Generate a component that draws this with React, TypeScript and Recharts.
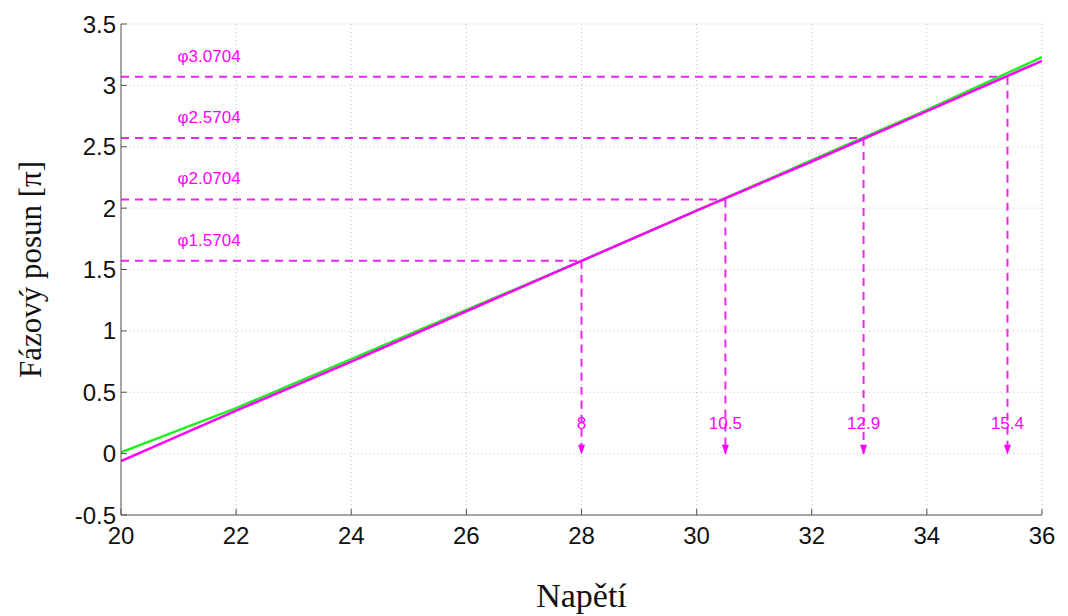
import {
  CartesianGrid,
  ComposedChart,
  Label,
  Line,
  ReferenceLine,
  Scatter,
  XAxis,
  YAxis,
} from 'recharts'

const voltage = [20, 22, 24, 26, 28, 30, 32, 34, 36]
const measured = [0.01, 0.37, 0.77, 1.17, 1.57, 1.98, 2.39, 2.8, 3.23]
const fitted = [-0.06, 0.35, 0.75, 1.16, 1.57, 1.98, 2.38, 2.79, 3.2]

const phaseLevels = [1.5704, 2.0704, 2.5704, 3.0704]
const crossings = [28, 30.5, 32.9, 35.4]
const crossingLabels = ['8', '10.5', '12.9', '15.4']

const xTicks = [20, 22, 24, 26, 28, 30, 32, 34, 36]
const yTicks = [-0.5, 0, 0.5, 1, 1.5, 2, 2.5, 3, 3.5]

const magenta = '#ff00ff'
const dashColor = '#e829e8'
const axisColor = '#555'
const sans = '"Liberation Sans", Arial, sans-serif'
const serif = '"Liberation Serif", "Times New Roman", serif'

const data = voltage.map((x, i) => ({x, measured: measured[i], fitted: fitted[i]}))
const arrows = crossings.map((x) => ({x, y: 0}))
const phaseNotes = phaseLevels.map((y) => ({x: 21, y, text: `φ${y}`}))
const crossingNotes = crossings.map((x, i) => ({x, y: 0.25, text: crossingLabels[i]}))

const X_GAP = 12
const Y_GAP = 5

// matlab style ticks point into the plot, so draw them with the label
function XTick(props: any) {
  const {x, y, payload} = props
  const axisY = y - X_GAP
  return (
    <g>
      <line x1={x} x2={x} y1={axisY} y2={axisY - 6} stroke={axisColor} />
      <text x={x} y={y} dy="0.71em" textAnchor="middle" fontSize={24} fontFamily={sans} fill="#111">
        {payload.value}
      </text>
    </g>
  )
}

function YTick(props: any) {
  const {x, y, payload} = props
  const axisX = x + Y_GAP
  return (
    <g>
      <line x1={axisX} x2={axisX + 6} y1={y} y2={y} stroke={axisColor} />
      <text x={x} y={y} dy="0.355em" textAnchor="end" fontSize={24} fontFamily={sans} fill="#111">
        {payload.value}
      </text>
    </g>
  )
}

function Arrow(props: any) {
  const {cx, cy} = props
  return <path d={`M${cx - 3.5},${cy - 9} L${cx + 3.5},${cy - 9} L${cx},${cy + 1} Z`} fill={magenta} />
}

function PhaseNote(props: any) {
  const {cx, cy, payload} = props
  return (
    <text x={cx - 1} y={cy - 15} fill={magenta} fontSize={17} fontFamily={sans}>
      {payload.text}
    </text>
  )
}

function CrossingNote(props: any) {
  const {cx, cy, payload} = props
  return (
    <text x={cx} y={cy + 6} fill={magenta} fontSize={17} fontFamily={sans} textAnchor="middle">
      {payload.text}
    </text>
  )
}

export default function App() {
  return (
    <div style={{width: 1060, height: 608, background: '#fff'}}>
      <ComposedChart width={1060} height={608} data={data} margin={{top: 16, right: 26, bottom: 9, left: 13}}>
        <CartesianGrid stroke="#c4c4c4" strokeDasharray="1 3" />
        <XAxis
          dataKey="x"
          type="number"
          domain={[20, 36]}
          ticks={xTicks}
          allowDataOverflow
          height={92}
          stroke={axisColor}
          tickLine={false}
          tickSize={0}
          tickMargin={X_GAP}
          tick={<XTick />}
        >
          <Label value="Napětí" position="insideBottom" offset={0} style={{fontSize: 34, fontFamily: serif, fill: '#111'}} />
        </XAxis>
        <YAxis
          type="number"
          domain={[-0.5, 3.5]}
          ticks={yTicks}
          allowDataOverflow
          width={100}
          stroke={axisColor}
          tickLine={false}
          tickSize={0}
          tickMargin={Y_GAP}
          tick={<YTick />}
        >
          <Label
            value="Fázový posun [π]"
            angle={-90}
            position="insideLeft"
            offset={9}
            style={{fontSize: 31, fontFamily: serif, fill: '#111', textAnchor: 'middle'}}
          />
        </YAxis>

        {phaseLevels.map((level, i) => (
          <ReferenceLine
            key={`h${i}`}
            segment={[{x: 20, y: level}, {x: crossings[i], y: level}]}
            stroke={dashColor}
            strokeWidth={2}
            strokeDasharray="8 6"
          />
        ))}
        {phaseLevels.map((level, i) => (
          <ReferenceLine
            key={`v${i}`}
            segment={[{x: crossings[i], y: level}, {x: crossings[i], y: 0}]}
            stroke={dashColor}
            strokeWidth={2}
            strokeDasharray="8 6"
          />
        ))}

        <Line dataKey="measured" stroke="#22ee22" strokeWidth={2.5} dot={false} isAnimationActive={false} />
        <Line dataKey="fitted" stroke={magenta} strokeWidth={2.5} dot={false} isAnimationActive={false} />

        <Scatter data={arrows} dataKey="y" shape={<Arrow />} isAnimationActive={false} />
        <Scatter data={phaseNotes} dataKey="y" shape={<PhaseNote />} isAnimationActive={false} />
        <Scatter data={crossingNotes} dataKey="y" shape={<CrossingNote />} isAnimationActive={false} />
      </ComposedChart>
    </div>
  )
}
